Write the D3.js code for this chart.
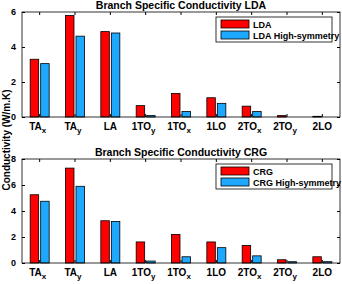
<!DOCTYPE html>
<html>
<head>
<meta charset="utf-8">
<script src="https://cdn.jsdelivr.net/npm/d3@7"></script>
<style>
body { margin: 0; background: #fff; }
svg text { font-family: "Liberation Sans", Arial, sans-serif; font-weight: bold; }
</style>
</head>
<body>
<div id="container"></div>
<script>
///declare size
let w = 342,
h = 284;

// data
let branches = ["TA|x", "TA|y", "LA", "1TO|y", "1TO|x", "1LO", "2TO|x", "2TO|y", "2LO"];
let ldaVals = [3.3, 5.8, 4.88, 0.65, 1.35, 1.1, 0.62, 0.08, 0.04];
let ldaHigh = [3.05, 4.62, 4.8, 0.08, 0.32, 0.78, 0.32, 0.0, 0.0];
let crgVals = [5.25, 7.3, 3.25, 1.62, 2.2, 1.62, 1.35, 0.25, 0.48];
let crgHigh = [4.75, 5.9, 3.2, 0.15, 0.48, 1.18, 0.55, 0.1, 0.1];
let ldaTicks = [0, 2, 4, 6];
let crgTicks = [0, 2, 4, 6, 8];

const red = "#ff0000", blue = "#1ea8ff";

let svg = d3.select("#container").append("svg")
  .attr("width", w).attr("height", h);

function panel(top, bottom, yMax, ticks, a, b, name, title) {
  let left = 22, right = 340;
  let x = d3.scaleBand().domain(branches).range([left, right]);
  let y = d3.scaleLinear().domain([0, yMax]).range([bottom, top]);
  let g = svg.append("g");

  // bars
  let bw = 8.5;
  branches.forEach((c, i) => {
    let cx = x(c) + x.bandwidth() / 2;
    [[a[i], red, cx - bw - 1], [b[i], blue, cx + 1]].forEach(([v, col, bx]) => {
      if (v <= 0) return;
      g.append("rect")
        .attr("x", bx).attr("y", y(v))
        .attr("width", bw).attr("height", bottom - y(v))
        .attr("fill", col).attr("stroke", "#000").attr("stroke-width", 0.8);
    });
  });

  // box
  g.append("rect").attr("x", left).attr("y", top)
    .attr("width", right - left).attr("height", bottom - top)
    .attr("fill", "none").attr("stroke", "#000").attr("stroke-width", 0.8);

  // axes
  let yAxis = d3.axisLeft(y).tickValues(ticks).tickFormat(d3.format("d"))
    .tickSizeInner(-3).tickSizeOuter(0).tickPadding(6);
  let ya = g.append("g").attr("transform", "translate(" + left + ",0)").call(yAxis);
  ya.select(".domain").remove();
  ya.selectAll("text").style("font-size", "9px").style("font-family", "Liberation Sans, Arial").style("font-weight", "bold");
  let yr = g.append("g").attr("transform", "translate(" + right + ",0)")
    .call(d3.axisRight(y).tickValues(ticks).tickSizeInner(-3).tickSizeOuter(0).tickFormat(""));
  yr.select(".domain").remove();

  let xAxis = d3.axisBottom(x).tickSizeInner(-3).tickSizeOuter(0).tickPadding(7).tickFormat("");
  let xa = g.append("g").attr("transform", "translate(0," + bottom + ")").call(xAxis);
  xa.select(".domain").remove();
  let xt = g.append("g").attr("transform", "translate(0," + top + ")")
    .call(d3.axisTop(x).tickSizeInner(-3).tickSizeOuter(0).tickFormat(""));
  xt.select(".domain").remove();

  // tick labels with subscripts
  branches.forEach(c => {
    let parts = c.split("|");
    let t = g.append("text")
      .attr("x", x(c) + x.bandwidth() / 2 - (parts[1] ? 2 : 0))
      .attr("y", bottom + 13)
      .attr("text-anchor", "middle")
      .style("font-size", "10px");
    t.append("tspan").text(parts[0]);
    if (parts[1]) t.append("tspan").attr("dy", 3).style("font-size", "8px").text(parts[1]);
  });

  // title
  g.append("text").attr("x", (left + right) / 2).attr("y", top - 3)
    .attr("text-anchor", "middle").style("font-size", "10.5px").text(title);

  // legend
  let lx = 216, ly = top + 5;
  g.append("rect").attr("x", lx).attr("y", ly).attr("width", 116).attr("height", 25)
    .attr("fill", "#fff").attr("stroke", "#000").attr("stroke-width", 0.8);
  [[red, name], [blue, name + " High-symmetry"]].forEach(([col, lab], i) => {
    g.append("rect").attr("x", lx + 5).attr("y", ly + 3 + i * 11)
      .attr("width", 28).attr("height", 8)
      .attr("fill", col).attr("stroke", "#000").attr("stroke-width", 0.8);
    g.append("text").attr("x", lx + 37).attr("y", ly + 10.5 + i * 11)
      .style("font-size", "9px").text(lab);
  });
}

panel(12, 117, 6, ldaTicks, ldaVals, ldaHigh, "LDA", "Branch Specific Conductivity LDA");
panel(159, 263, 8, crgTicks, crgVals, crgHigh, "CRG", "Branch Specific Conductivity CRG");

svg.append("text")
  .attr("transform", "translate(10,140) rotate(-90)")
  .attr("text-anchor", "middle")
  .style("font-size", "10px")
  .text("Conductivity (W/m.K)");
</script>
</body>
</html>
